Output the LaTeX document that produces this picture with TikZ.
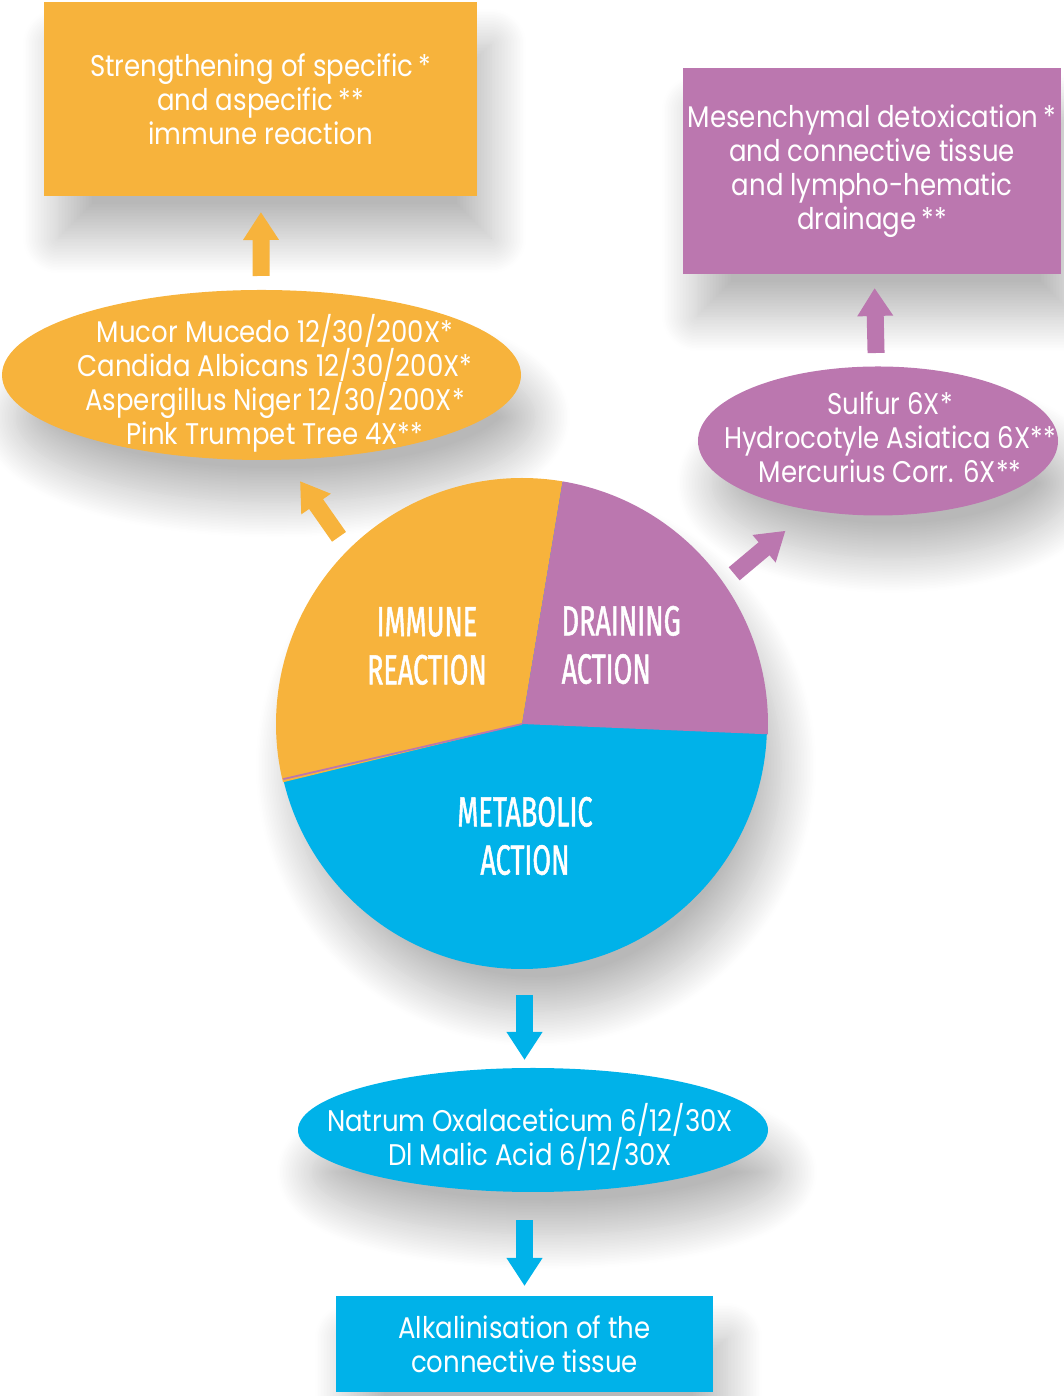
\documentclass[tikz,border=0pt]{standalone}
\usepackage{fontspec}
\setmainfont{Poppins}[FakeStretch=0.87]
\newfontfamily\slicefont[FakeStretch=0.64, FakeBold=1.2]{Fira Sans}
\usetikzlibrary{arrows.meta, positioning, shapes.geometric, calc, shadows.blur}
\definecolor{Marigold}{HTML}{F7B33C}
\definecolor{Orchid}{HTML}{BB77AF}
\definecolor{Azure}{HTML}{00B2E9}
\tikzset{
    % soft grey shadow under every shape
    base_shadow/.style={
        blur shadow={shadow xshift=4pt, shadow yshift=-12pt,
            shadow blur radius=10pt, shadow blur steps=24, shadow opacity=28}
    },
    % white text used in all boxes and ovals
    body_text/.style={
        text=white,
        align=center,
        inner sep=0pt,
        font=\fontsize{8.5}{9.7}\selectfont
    },
    standard_block/.style={
        rectangle,
        inner sep=0pt,
        outer sep=0pt,
        base_shadow,
        body_text
    },
    remedy_oval/.style={
        ellipse,
        inner sep=0pt,
        outer sep=0pt,
        base_shadow
    },
    slice_label/.style={
        text=white,
        inner sep=0pt,
        font=\slicefont\fontsize{12}{13.7}\selectfont
    },
    block_arrow/.style={
        line width=1.7mm,
        -{Triangle[length=2.8mm, width=3.4mm]}
    },
    immune_arrow/.style={block_arrow, draw=Marigold},
    drain_arrow/.style={block_arrow, draw=Orchid},
    metab_arrow/.style={block_arrow, draw=Azure}
}
\begin{document}
\begin{tikzpicture}[x=0.1mm, y=0.1mm]
    \useasboundingbox (0,0) rectangle (1063,1396);

    % --- TOP ROW ---
    \node[standard_block, fill=Marigold, minimum width=4.33cm, minimum height=1.94cm]
        (immune_box) at (260.5,1297) {Strengthening of specific\,*\\and aspecific\,**\\immune reaction};
    \node[standard_block, fill=Orchid, minimum width=3.78cm, minimum height=2.06cm]
        (drain_box) at (872,1225) {Mesenchymal detoxication\,*\\and connective tissue\\and lympho-hematic\\drainage\,**};

    % --- REMEDY OVALS ---
    \node[remedy_oval, fill=Marigold, minimum width=5.19cm, minimum height=1.70cm] (immune_oval) at (261.5,1021) {};
    \node[body_text] (immune_list) at (275,1013)
        {Mucor Mucedo 12/30/200X*\\Candida Albicans 12/30/200X*\\Aspergillus Niger 12/30/200X*\\Pink Trumpet Tree 4X**};
    \node[remedy_oval, fill=Orchid, minimum width=3.60cm, minimum height=1.49cm] (drain_oval) at (878,955) {};
    \node[body_text] (drain_list) at (890,959)
        {Sulfur 6X*\\Hydrocotyle Asiatica 6X**\\Mercurius Corr. 6X**};

    % --- PIE ---
    \node[circle, fill=Azure, minimum size=4.9cm, inner sep=0pt, outer sep=0pt, base_shadow] (pie) at (522,672) {};
    \fill[Marigold] (pie.center) -- ++(80.5:246) arc[start angle=80.5, end angle=193.7, radius=246] -- cycle;
    \fill[Orchid] (pie.center) -- ++(-2.4:246) arc[start angle=-2.4, end angle=80.5, radius=246] -- cycle;
    \draw[Orchid, line width=0.5pt] (pie.center) -- (pie.193.7);
    \node[slice_label, align=center] (immune_label) at (427,750) {IMMUNE\\REACTION};
    \node[slice_label, align=left, anchor=west] (drain_label) at (561,751) {DRAINING\\ACTION};
    \node[slice_label, align=center] (metab_label) at (525,560) {METABOLIC\\ACTION};

    % --- BOTTOM ROW ---
    \node[remedy_oval, fill=Azure, minimum width=4.70cm, minimum height=1.24cm] (metab_oval) at (533,266) {};
    \node[body_text] (metab_list) at (530,259)
        {Natrum Oxalaceticum 6/12/30X\\Dl Malic Acid 6/12/30X};
    \node[standard_block, fill=Azure, minimum width=3.77cm, minimum height=0.96cm]
        (metab_box) at (524.5,52) {Alkalinisation of the\\connective tissue};

    % --- ARROWS ---
    \draw[immune_arrow, shorten <=1.4mm, shorten >=1.6mm] (immune_oval) -- (immune_box);
    \draw[immune_arrow] ([shift={(125:17)}]pie.135) -- ++(125:68);
    \draw[drain_arrow, shorten <=1.35mm, shorten >=1.4mm] (drain_oval) -- (drain_box);
    \draw[drain_arrow] ([shift={(40:15)}]pie.35) -- ++(40:67);
    \draw[metab_arrow, shorten <=2.6mm, shorten >=0.8mm] (pie.south -| metab_box) -- (metab_oval.north -| metab_box);
    \draw[metab_arrow, shorten <=2.8mm, shorten >=1.0mm] (metab_oval.south -| metab_box) -- (metab_box);

\end{tikzpicture}
\end{document}
